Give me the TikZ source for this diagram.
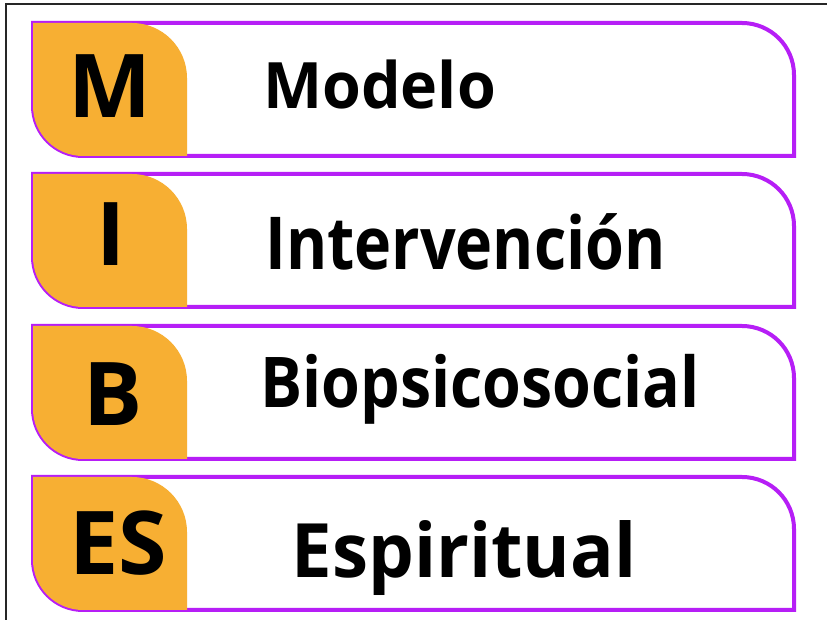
\documentclass[tikz,border=0pt]{standalone}
\usepackage{fontspec}
\setmainfont{Open Sans}
\definecolor{rowpurple}{RGB}{182,30,246}
\definecolor{tagorange}{RGB}{247,175,51}
\tikzset{
  rowline/.style={draw=rowpurple, line width=4pt, fill=white},
  tagfill/.style={fill=tagorange},
  tagletter/.style={anchor=base, inner sep=0pt, font=\bfseries\fontsize{88}{88}\selectfont},
  rowtext/.style={anchor=base, inner sep=0pt, font=\bfseries}
}
\newcommand{\mibrow}[1]{%
  \draw[rowline] (33,#1) -- (742,#1) arc[start angle=90,end angle=0,radius=52] -- (794,#1-133) -- (83,#1-133) arc[start angle=270,end angle=180,radius=50] -- cycle;
  \fill[tagfill] (33,#1) -- (132,#1) arc[start angle=90,end angle=0,radius=55] -- (187,#1-133) -- (83,#1-133) arc[start angle=270,end angle=180,radius=50] -- cycle;
}
\begin{document}
\begin{tikzpicture}[x=1pt,y=1pt]
\useasboundingbox (0,0) rectangle (827,620);
\fill[white] (0,0) rectangle (827,620);
\draw[line width=2pt, black!85] (6,0) -- (6,616) -- (827,616);
\mibrow{597}
\mibrow{446}
\mibrow{294}
\mibrow{143}
\node[tagletter] (lm) at (110,502) {M};
\node[tagletter] (li) at (111.5,354) {I};
\node[tagletter] (lb) at (113.5,194) {B};
\node[tagletter] (les) at (118.5,45) {ES};
\node[rowtext, font=\bfseries\fontsize{64}{64}\selectfont] (tm) at (379.5,511.7) {\scalebox{0.98}[1]{Modelo}};
\node[rowtext, font=\bfseries\fontsize{73}{73}\selectfont] (ti) at (465.5,350) {\scalebox{0.86}[1]{Intervención}};
\node[rowtext, font=\bfseries\fontsize{70}{70}\selectfont] (tb) at (480,212) {\scalebox{0.895}[1]{Biopsicosocial}};
\node[rowtext, font=\bfseries\fontsize{75}{75}\selectfont] (te) at (464,42) {\scalebox{0.966}[1]{Espiritual}};
\end{tikzpicture}
\end{document}
